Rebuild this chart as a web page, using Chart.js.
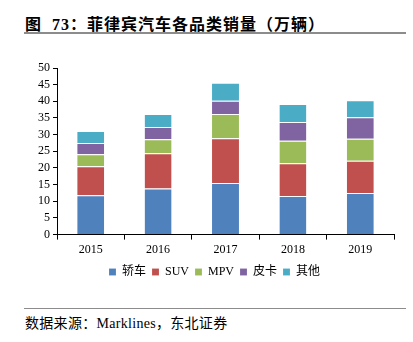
<!DOCTYPE html>
<html lang="zh">
<head>
<meta charset="UTF-8">
<title>菲律宾汽车各品类销量</title>
<script src="https://cdn.jsdelivr.net/npm/chart.js@4/dist/chart.umd.min.js"></script>
<style>
  body { margin: 0; width: 413px; height: 342px; background: #fff; position: relative; overflow: hidden; }
  #title { position: absolute; left: 25px; top: 11px; font: bold 16px "Liberation Serif", "Noto Sans CJK SC"; color: #000; letter-spacing: 1px; }
  #line1 { position: absolute; left: 24px; top: 32px; width: 382px; height: 2px; background: #8c8c8c; }
  #wrap { position: absolute; left: 0; top: 50px; width: 413px; height: 238px; }
  #line2 { position: absolute; left: 24px; top: 308px; width: 382px; height: 1px; background: #8c8c8c; }
  #source { position: absolute; left: 25px; top: 312px; font: 14px "Liberation Serif", "Noto Sans CJK SC"; color: #000; letter-spacing: 0.3px; }
</style>
</head>
<body>
<div id="title">图&nbsp; 73：菲律宾汽车各品类销量（万辆）</div>
<div id="line1"></div>
<div id="wrap"><canvas id="grafico"></canvas></div>
<div id="line2"></div>
<div id="source">数据来源：Marklines，东北证券</div>
<script>
const anios = ['2015', '2016', '2017', '2018', '2019'];
const jiaoche = [11.8, 13.8, 15.5, 11.6, 12.5];
const suv = [8.7, 10.6, 13.4, 9.8, 9.7];
const mpv = [3.6, 4.2, 7.3, 6.8, 6.6];
const pika = [3.4, 3.7, 4.0, 5.6, 6.4];
const qita = [3.6, 3.9, 5.4, 5.4, 5.1];

const fuente = "'Liberation Serif', 'Noto Sans CJK SC'";

function serie(nombre, datos, color) {
    return {
        label: nombre,
        data: datos,
        backgroundColor: color,
        borderColor: 'rgba(255,255,255,0.6)',
        borderWidth: { top: 1, bottom: 0, left: 0, right: 0 },
        categoryPercentage: 0.4,
        barPercentage: 1.0
    };
}

new Chart(document.getElementById('grafico'), {
    type: 'bar',
    data: {
        labels: anios,
        datasets: [
            serie('轿车', jiaoche, '#4f81bd'),
            serie('SUV', suv, '#c0504d'),
            serie('MPV', mpv, '#9bbb59'),
            serie('皮卡', pika, '#8064a2'),
            serie('其他', qita, '#4bacc6')
        ]
    },
    options: {
        responsive: true,
        maintainAspectRatio: false,
        animation: false,
        layout: { padding: { left: 35, right: 19, top: 18, bottom: 0 } },
        plugins: {
            legend: {
                position: 'bottom',
                labels: {
                    boxWidth: 7,
                    boxHeight: 7,
                    padding: 6,
                    color: '#000',
                    font: { family: fuente, size: 12 }
                }
            },
            tooltip: { enabled: false }
        },
        scales: {
            x: {
                stacked: true,
                border: { color: '#000', width: 1 },
                grid: { drawOnChartArea: false, drawTicks: true, tickLength: 5, color: '#000', offset: true },
                ticks: { color: '#000', font: { family: fuente, size: 12 }, padding: 3 }
            },
            y: {
                stacked: true,
                min: 0,
                max: 50,
                border: { color: '#000', width: 1 },
                grid: { drawOnChartArea: false, drawTicks: true, tickLength: 4, color: '#000' },
                ticks: { stepSize: 5, autoSkip: false, color: '#000', font: { family: fuente, size: 12 }, padding: 3 }
            }
        }
    }
});
</script>
</body>
</html>
